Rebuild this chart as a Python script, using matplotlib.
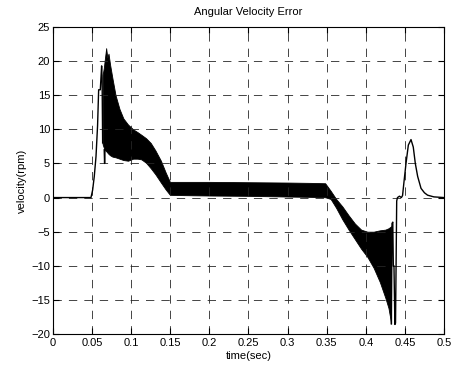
import matplotlib
matplotlib.use("Agg")
import matplotlib.pyplot as plt

plt.rcParams['font.family'] = ['Liberation Sans', 'DejaVu Sans']

# smooth start of the response (before the oscillating band)
t_rise = [0, 0.0486, 0.0507, 0.0528, 0.055, 0.057, 0.0584, 0.0605, 0.0622, 0.0628, 0.0635]
v_rise = [0, 0, 1.1, 3.1, 6.0, 10.5, 15.8, 15.8, 19.3, 17.5, 8.0]

# envelope of the dense oscillation
t_band = [0.0635, 0.065, 0.066, 0.068, 0.0695, 0.071, 0.073, 0.076, 0.080, 0.085,
          0.090, 0.096, 0.1025, 0.108, 0.113, 0.119, 0.125, 0.131, 0.138, 0.144,
          0.1495, 0.17, 0.2, 0.25, 0.3, 0.33, 0.348, 0.355, 0.362, 0.37,
          0.378, 0.386, 0.394, 0.402, 0.41, 0.418, 0.425, 0.429, 0.4325]
v_upper = [18.0, 19.0, 20.0, 21.9, 20.5, 21.1, 19.5, 17.5, 15.0, 13.0,
           11.6, 10.7, 10.0, 9.6, 9.2, 8.7, 8.0, 6.9, 5.4, 3.7,
           2.3, 2.3, 2.3, 2.25, 2.2, 2.15, 2.1, 1.0, -0.2, -1.3,
           -2.6, -3.8, -4.7, -5.0, -5.0, -4.8, -4.7, -4.5, -4.2]
v_lower = [7.8, 7.3, 7.0, 6.8, 6.6, 6.4, 6.2, 6.0, 5.9, 5.7,
           5.5, 5.4, 5.7, 5.7, 5.6, 5.1, 4.3, 3.4, 2.2, 1.2,
           0.4, 0.35, 0.3, 0.25, 0.15, 0.1, 0.05, -0.2, -1.5, -3.2,
           -4.7, -6.1, -7.5, -8.7, -10.3, -12.4, -14.7, -16.2, -18.5]

# single downward spike inside the band
t_spike = [0.0655, 0.066, 0.0665]
v_spike = [7.0, 5.0, 7.0]

# end of the band, spikes and the final bump
t_tail = [0.4325, 0.4335, 0.4345, 0.4352, 0.436, 0.4372, 0.438, 0.4395, 0.4405,
          0.443, 0.4455, 0.447, 0.449, 0.4514, 0.4544, 0.4578, 0.4607, 0.4633,
          0.4663, 0.4706, 0.475, 0.479, 0.487, 0.5]
v_tail = [-18.5, -3.8, -3.6, -10.0, -10.0, -18.6, -18.4, -0.5, 0.0,
          0.2, 0.0, 0.3, 2.5, 5.0, 7.7, 8.5, 7.4, 5.0,
          3.1, 1.35, 0.7, 0.35, 0.1, 0.0]

x_ticks = [0, 0.05, 0.1, 0.15, 0.2, 0.25, 0.3, 0.35, 0.4, 0.45, 0.5]
x_labels = ['0', '0.05', '0.1', '0.15', '0.2', '0.25', '0.3', '0.35', '0.4', '0.45', '0.5']
y_ticks = [-20, -15, -10, -5, 0, 5, 10, 15, 20, 25]

fig = plt.figure(figsize=(4.54, 3.67), dpi=100)
ax = fig.add_axes([0.1167, 0.0899, 0.8613, 0.8365])

ax.plot(t_rise, v_rise, color='k', linewidth=1)
ax.fill_between(t_band, v_lower, v_upper, color='k', linewidth=0.6)
ax.plot(t_spike, v_spike, color='k', linewidth=1)
ax.plot(t_tail, v_tail, color='k', linewidth=1)

ax.set_xlim(0, 0.5)
ax.set_ylim(-20, 25)
ax.set_xticks(x_ticks)
ax.set_xticklabels(x_labels)
ax.set_yticks(y_ticks)
ax.grid(True, color='0.15', linestyle=(0, (10, 8.5)), linewidth=0.6)
ax.tick_params(direction='in', length=4, width=0.8, labelsize=8, top=True, right=True)
ax.tick_params(axis='x', pad=3)
ax.tick_params(axis='y', pad=2)
for s in ax.spines.values():
    s.set_linewidth(0.8)

ax.set_title('Angular Velocity Error', fontsize=8, pad=9)
ax.set_xlabel('time(sec)', fontsize=8, labelpad=2)
ax.set_ylabel('velocity(rpm)', fontsize=8, labelpad=3)

fig.savefig('out.png', dpi=100)
